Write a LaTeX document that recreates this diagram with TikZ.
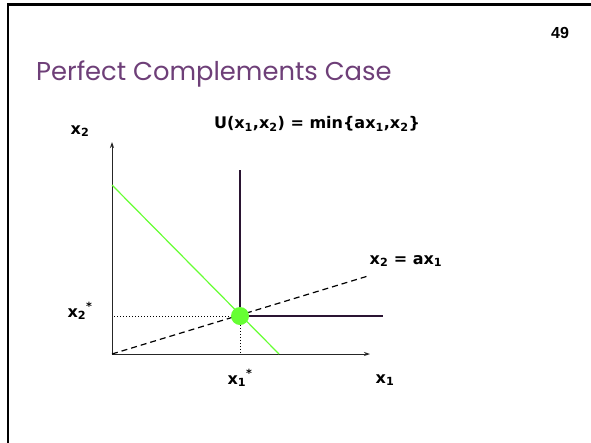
\documentclass[tikz,border=0pt]{standalone}
\usepackage{fontspec}
\setmainfont{Liberation Sans}
\newfontfamily\titlefont{Poppins}
\newfontfamily\lblfont{DejaVu Sans}
\usetikzlibrary{arrows.meta}
\definecolor{plum}{HTML}{6E3F78}
\definecolor{inkplum}{HTML}{2A1432}
\definecolor{lime}{HTML}{66FF33}
\tikzset{lbl/.style={font=\lblfont\bfseries\fontsize{16}{18}\selectfont,inner sep=0pt},axis/.style={draw=black!85,line width=0.9pt,-{Stealth[length=6pt,width=4pt]}},kinked/.style={draw=inkplum,line width=1.6pt},budget/.style={draw=lime,line width=1.2pt},ray/.style={draw=black,line width=1.2pt,dash pattern=on 6pt off 4pt},guide/.style={draw=black,line width=1pt,dotted}}

\begin{document}
\begin{tikzpicture}[x=1pt,y=-1pt]
\useasboundingbox (0,0) rectangle (591,442);
\fill[white] (0,0) rectangle (591,442);
\draw[line width=2.5pt] (8,700) |- (700,4.5);
\node[anchor=base west,text=plum,font=\titlefont\fontsize{25.8}{30}\selectfont,inner sep=0pt] (title) at (36,80) {Perfect Complements Case};
\node[font=\bfseries\fontsize{16}{18}\selectfont,inner sep=0pt] (page) at (560,33) {49};
% axes and lines
\coordinate (O) at (112,354); \coordinate (ytop) at (112,142); \coordinate (xend) at (370,354);
\coordinate (K) at (240,316); \coordinate (Ktop) at (240,170); \coordinate (Kright) at (383,316);
\coordinate (rayend) at (368,276); \coordinate (bl) at (112,185); \coordinate (bx) at (279,354);
\coordinate (Kfoot) at (240,354); \coordinate (Kleft) at (114,316);
\draw[axis] (O)--(ytop); \draw[axis] (O)--(xend);
\draw[budget] (bl)--(bx);
\draw[ray] (O)--(rayend);
\draw[kinked] (Ktop)--(K)--(Kright);
\node[circle,fill=lime,minimum size=18pt,inner sep=0pt] (opt) at (K) {};
\draw[guide] (Kleft)--(opt); \draw[guide] (opt)--(Kfoot);
% labels
\node[lbl] (x2lab) at (80,131) {x\textsubscript{2}};
\node[lbl] (ulab) at (317,124) {U(x\textsubscript{1},x\textsubscript{2}) = min\{ax\textsubscript{1},x\textsubscript{2}\}};
\node[lbl] (raylab) at (406,261) {x\textsubscript{2} = ax\textsubscript{1}};
\node[lbl] (x2star) at (80,311) {x\textsubscript{2}\textsuperscript{*}};
\node[lbl] (x1star) at (240,378) {x\textsubscript{1}\textsuperscript{*}};
\node[lbl] (x1lab) at (385,380) {x\textsubscript{1}};
\end{tikzpicture}
\end{document}
